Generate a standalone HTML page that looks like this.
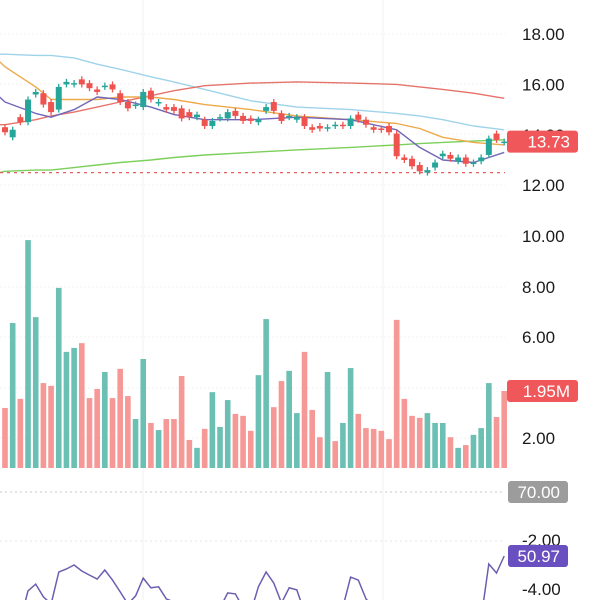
<!DOCTYPE html>
<html><head><meta charset="utf-8">
<style>
html,body{margin:0;padding:0;background:#fff;width:600px;height:600px;overflow:hidden}
svg{display:block;overflow:hidden}
text{font-family:"Liberation Sans",sans-serif}
</style></head>
<body>
<svg id="chart" width="600" height="600" xmlns="http://www.w3.org/2000/svg"></svg>
<script>
// ---- data ----
const opens  = [14.3,13.9,14.7,14.5,15.6,15.65,15.3,15.0,16.0,16.0,16.2,16.05,15.8,15.9,16.0,15.65,15.3,15.15,15.1,15.75,15.25,15.1,15.1,15.05,14.9,14.7,14.6,14.35,14.65,14.65,14.95,14.75,14.65,14.5,14.95,15.3,14.85,14.7,14.6,14.7,14.3,14.35,14.25,14.35,14.4,14.35,14.8,14.6,14.3,14.25,14.35,14.05,13.1,13.05,12.8,12.5,12.7,13.15,13.2,12.95,13.1,12.85,12.95,13.2,14.05,13.7];
const closes = [14.1,14.2,14.5,15.4,15.7,15.2,14.9,15.9,16.1,16.05,16.0,15.85,15.7,15.95,15.8,15.3,15.05,15.2,15.7,15.4,15.3,15.0,14.95,14.65,14.7,14.8,14.35,14.55,14.7,14.9,14.75,14.55,14.55,14.6,15.1,14.95,14.55,14.75,14.7,14.35,14.2,14.25,14.3,14.4,14.35,14.65,14.6,14.4,14.2,14.2,14.1,13.15,13.0,12.75,12.55,12.6,12.9,13.25,13.05,13.1,12.85,12.9,13.1,13.85,13.8,13.73];
const volumes = [1.52,3.67,1.75,5.77,3.82,2.15,2.08,4.56,2.94,3.04,3.16,1.77,2.0,2.43,1.77,2.51,1.82,1.24,2.76,1.14,0.96,1.24,1.24,2.33,0.71,0.51,0.99,1.92,1.04,1.72,1.37,1.32,0.94,2.35,3.77,1.54,2.2,2.46,1.39,2.94,1.47,0.78,2.43,0.68,1.14,2.53,1.37,1.01,0.99,0.94,0.73,3.75,1.75,1.32,1.27,1.39,1.14,1.14,0.78,0.51,0.58,0.84,1.01,2.15,1.29,1.95];
const volumeUp = [0,1,0,1,1,0,0,1,1,1,0,0,0,1,0,0,0,1,1,0,1,0,0,0,0,1,0,1,1,1,0,0,0,1,1,0,0,1,1,0,0,0,1,0,1,1,0,0,0,0,0,0,0,0,0,1,1,1,0,1,0,1,1,1,0,0];
const rsi = [29,31.5,31.9,40.6,42.6,38.8,36.7,46.2,47.1,48.3,46.5,45.3,44.1,46.8,43.8,40.3,36.7,39.1,44.4,41.5,41.8,38.2,37.3,33.4,33.4,34.0,31.9,34.0,35.5,40.0,39.7,35.5,34.3,41.8,46.2,42.9,37.0,41.5,40.9,34.3,31.9,34.9,35.8,35.8,35.8,44.7,43.8,38.2,35.8,36.7,33.4,27.5,25,24,22,23,26,28,27,29,28,30,32.5,48.6,45.9,50.97];
// moving averages sampled at candle indices
const maIdx = [-0.7,0,4,6,9,12,15,19,22,26,32,38,45,51,54,57,61,65];
const maPurple = [15.5,15.3,14.85,14.7,15.0,15.5,15.4,15.1,14.8,14.6,14.6,14.7,14.6,14.2,13.5,13.0,12.9,13.3];
const maOrange = [16.9,16.7,15.9,15.4,15.4,15.4,15.5,15.5,15.4,15.2,15.0,14.75,14.6,14.45,14.25,13.9,13.7,13.6];
const maRed = [14.4,14.4,14.6,14.75,14.9,15.1,15.3,15.55,15.75,15.95,16.05,16.1,16.05,16.0,15.9,15.8,15.65,15.45];
const maBlue = [17.2,17.2,17.15,17.15,17.05,16.8,16.6,16.3,16.1,15.8,15.35,15.1,15.0,14.85,14.75,14.6,14.35,14.2];
const maGreen = [12.5,12.55,12.6,12.6,12.7,12.8,12.9,13.0,13.1,13.2,13.3,13.4,13.5,13.6,13.65,13.7,13.75,13.8];
const priceTicks = ["18.00","16.00","14.00","12.00"];
const volTicks = ["10.00","8.00","6.00","2.00"];
const lastPrice = "13.73", lastVol = "1.95M", rsiLevel = "70.00", rsiLast = "50.97";
const macdTicks = ["-2.00","-4.00"];

// ---- scales ----
const X = i => 5 + i*7.68;
const PY = p => 34 + (18 - p)*25.2;
const VY = v => 468 - v*39.5;
const RY = r => 492 + (70 - r)*3.363;
const UP = "#26a69a", DN = "#ef5350";

const svg = document.getElementById('chart');
const NS = "http://www.w3.org/2000/svg";
function mk(tag, attrs, parent){ const e=document.createElementNS(NS,tag); for(const k in attrs) e.setAttribute(k,attrs[k]); (parent||svg).appendChild(e); return e; }

// grid
const grid = mk('g',{});


[143,383].forEach(x=>mk('line',{x1:x,y1:0,x2:x,y2:600,stroke:"#f1f1f1","stroke-width":1},grid));
[34,84,134,185,236,287,337,388,438].forEach(y=>mk('line',{x1:0,y1:y,x2:505,y2:y,stroke:"#f3f3f3","stroke-width":1,"stroke-dasharray":"2,2"},grid));

// price panel container
const pricePanel = mk('svg',{x:0,y:0,width:507,height:195,overflow:"hidden"});



// MAs
function maLine(vals, color, name){
  const d = vals.map((v,k)=>(k?'L':'M')+X(maIdx[k]).toFixed(1)+','+PY(v).toFixed(1)).join(' ');
  const p = mk('path',{d:d,fill:"none",stroke:color,"stroke-width":1.4,"stroke-linejoin":"round"},pricePanel);
  
  
}
maLine(maBlue,"#9fd3ea",'ma-blue-line');
maLine(maRed,"#e5736a",'ma-red-line');
maLine(maGreen,"#7ccf5a",'ma-green-line');
maLine(maOrange,"#eda94a",'ma-orange-line');
maLine(maPurple,"#7166b8",'ma-purple-line');

// low dashed line
const low = mk('line',{x1:0,y1:PY(12.5),x2:505,y2:PY(12.5),stroke:"#e06060","stroke-width":1.2,"stroke-dasharray":"3,4"},pricePanel);



// candles
closes.forEach((c,i)=>{
  const o=opens[i], up=c>=o, col=up?UP:DN;
  const hi=Math.max(o,c)+0.12, lo=Math.min(o,c)-0.12;
  const g=mk('g',{},pricePanel);
  
  
  mk('line',{x1:X(i),x2:X(i),y1:PY(hi),y2:PY(lo),stroke:col,"stroke-width":1.3},g);
  const top=PY(Math.max(o,c)), h=Math.max(1.5,Math.abs(PY(o)-PY(c)));
  mk('rect',{x:X(i)-3,y:top,width:6,height:h,fill:col},g);
});

// volume bars
volumes.forEach((v,i)=>{
  const r=mk('rect',{x:X(i)-2.8,y:VY(v),width:5.6,height:468-VY(v),fill:volumeUp[i]?"#6bbfb3":"#f59896"});
  
  
});

// rsi
const rl = mk('line',{x1:0,y1:492,x2:505,y2:492,stroke:"#c8c8c8","stroke-width":1,"stroke-dasharray":"2,3"});


const rl2 = mk('line',{x1:0,y1:541,x2:505,y2:541,stroke:"#e6e6e6","stroke-width":1,"stroke-dasharray":"2,3"});


const rsiPanel = mk('svg',{x:0,y:478,width:512,height:122,overflow:"hidden",viewBox:"0 478 512 122"});


const rp = mk('path',{d:rsi.map((v,i)=>(i?'L':'M')+X(i).toFixed(1)+','+RY(v).toFixed(1)).join(' '),fill:"none",stroke:"#6a5fb0","stroke-width":1.5},rsiPanel);



// axis labels
function label(txt,y,name){
  const t=mk('text',{x:522,y:y+6,"font-size":17,fill:"#1a1a1a"}); t.textContent=txt;
  
  
}
priceTicks.forEach((t,k)=>label(t,PY(parseFloat(t)),'price-tick'));
volTicks.forEach((t,k)=>label(t,[236,287,337,438][k],'volume-tick'));
macdTicks.forEach((t,k)=>label(t,[540,589][k],'macd-tick'));

function badge(txt,y,fill,name,x,w){
  const g=mk('g',{});
  
  
  mk('rect',{x:x,y:y-11,width:w,height:22,rx:3,fill:fill},g);
  const t=mk('text',{x:x+w-8,y:y+6,"font-size":17,fill:"#fff","text-anchor":"end"},g); t.textContent=txt;
}
badge(lastPrice,PY(13.73),"#f0575a",'last-price-badge',507,71);
badge(lastVol,391,"#f0575a",'last-volume-badge',507,71);
badge(rsiLevel,492,"#9c9c9c",'rsi-level-badge',508,60);
badge(rsiLast,556,"#6a4fc0",'rsi-last-badge',508,60);
</script>
</body></html>
